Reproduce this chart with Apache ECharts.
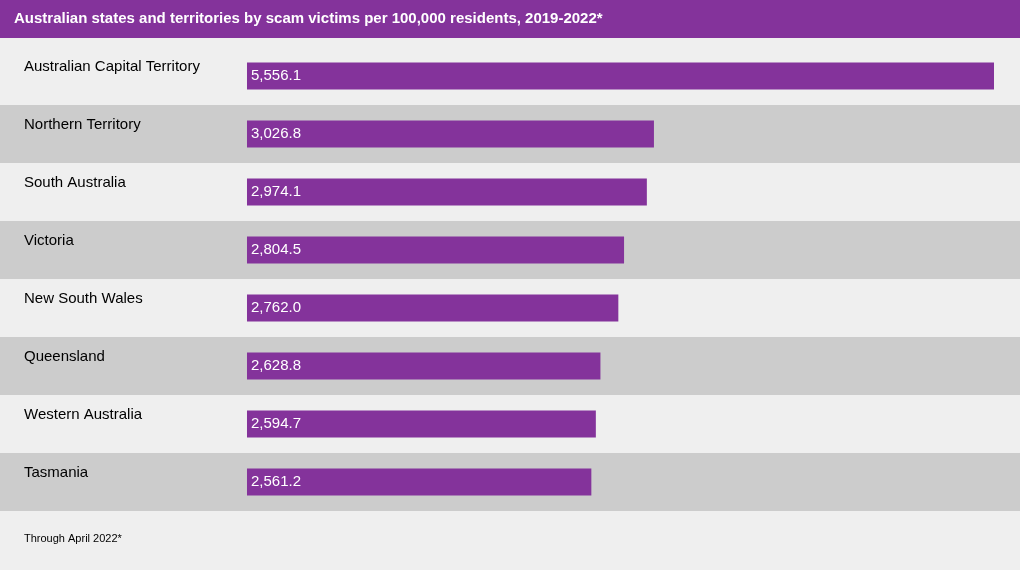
<!DOCTYPE html>
<html><head><meta charset="utf-8">
<script src="https://cdn.jsdelivr.net/npm/echarts@6/dist/echarts.min.js"></script>
<style>html,body{margin:0;padding:0;background:#efefef}#c{width:1020px;height:570px}</style>
</head><body><div id="c"></div>
<script>
const categories = ['Australian Capital Territory','Northern Territory','South Australia','Victoria','New South Wales','Queensland','Western Australia','Tasmania'];
const values = [5556.1, 3026.8, 2974.1, 2804.5, 2762.0, 2628.8, 2594.7, 2561.2];
const title = 'Australian states and territories by scam victims per 100,000 residents, 2019-2022*';
const footnote = 'Through April 2022*';
const font = 'Liberation Sans, Arial, sans-serif';
const chart = echarts.init(document.getElementById('c'));
chart.setOption({
  backgroundColor: '#efefef',
  animation: false,
  graphic: [
    {type:'rect', left:0, top:0, shape:{width:1020,height:38}, style:{fill:'#84339b'}},
    {type:'text', left:14, top:11, style:{text:title, fill:'#fff', font:'bold 15px '+font}},
    {type:'text', left:24, top:533, style:{text:footnote, fill:'#000', font:'11px '+font}}
  ],
  grid: {left:0, right:0, top:47, height:464},
  xAxis: {type:'value', min:-1837.1, max:5749.5, show:false},
  yAxis: {type:'category', data:categories, inverse:true,
    axisLine:{show:false}, axisTick:{show:false},
    splitArea:{show:true, areaStyle:{color:['#efefef','#cccccc']}},
    axisLabel:{inside:true, margin:24, align:'left', color:'#000', fontSize:15, fontFamily:font, verticalAlign:'bottom', lineHeight:18, padding:[0,0,0,0]}
  },
  series: [{type:'bar', data:values, barWidth:27, itemStyle:{color:'#84339b'},
    label:{show:true, position:'insideLeft', distance:4, color:'#fff', fontSize:15, fontFamily:font,
      formatter:p=>p.value.toLocaleString('en-US',{minimumFractionDigits:1,maximumFractionDigits:1})}}]
});
</script></body></html>
